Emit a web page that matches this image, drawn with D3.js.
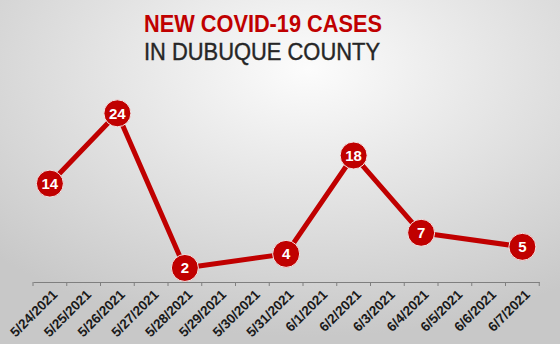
<!DOCTYPE html>
<meta charset="utf-8">
<head>
<style>
  body { margin: 0; }
  svg { display: block; }
  .axis path { stroke: #7f7f7f; }
  .axis text { font: bold 13.5px "Liberation Sans", Arial, sans-serif; fill: #1a1a1a; }
</style>
</head>
<body>
<script src="https://d3js.org/d3.v7.min.js"></script>
<script>

var dates = ["5/24/2021", "5/25/2021", "5/26/2021", "5/27/2021", "5/28/2021",
             "5/29/2021", "5/30/2021", "5/31/2021", "6/1/2021", "6/2/2021",
             "6/3/2021", "6/4/2021", "6/5/2021", "6/6/2021", "6/7/2021"];
var caseDates = ["5/24/2021", "5/26/2021", "5/28/2021", "5/31/2021", "6/2/2021", "6/4/2021", "6/7/2021"];
var cases = [14, 24, 2, 4, 18, 7, 5];

var width = 560, height = 344;
var red = "#c00000";

var svg = d3.select("body").append("svg")
    .attr("width", width)
    .attr("height", height);

// soft grey backdrop, brighter near the title
var grad = svg.append("defs").append("radialGradient")
    .attr("id", "bg")
    .attr("cx", "55%").attr("cy", "20%").attr("r", "78%");
grad.append("stop").attr("offset", "0%").attr("stop-color", "#fcfcfc");
grad.append("stop").attr("offset", "100%").attr("stop-color", "#c8c8c8");

svg.append("rect")
    .attr("width", width)
    .attr("height", height)
    .attr("fill", "url(#bg)");

svg.append("text")
    .attr("x", 263).attr("y", 32)
    .attr("text-anchor", "middle")
    .attr("textLength", 238).attr("lengthAdjust", "spacingAndGlyphs")
    .style("font", "bold 24px 'Liberation Sans', Arial, sans-serif")
    .style("fill", "#c00000")
    .text("NEW COVID-19 CASES");

svg.append("text")
    .attr("x", 262).attr("y", 60)
    .attr("text-anchor", "middle")
    .attr("textLength", 236).attr("lengthAdjust", "spacingAndGlyphs")
    .style("font", "24px 'Liberation Sans', Arial, sans-serif")
    .style("fill", "#262626")
    .style("stroke", "#262626")
    .style("stroke-width", 0.4)
    .text("IN DUBUQUE COUNTY");

var x = d3.scaleBand().domain(dates).range([33, 539.25]).padding(0);
var y = d3.scaleLinear().domain([0, 24]).range([282, 113.3]);

var axis = svg.append("g")
    .attr("class", "axis")
    .attr("transform", "translate(0," + y(0) + ")")
    .call(d3.axisBottom(x).tickSize(0).tickPadding(0));

axis.selectAll(".tick text")
    .attr("text-anchor", "end")
    .attr("transform", "translate(5,10) rotate(-45)")
    .attr("dy", "0.35em");

// tick marks sit between the dates
var edges = dates.map(function(d) { return x(d); }).concat([x.range()[1]]);
axis.selectAll(".edge")
    .data(edges)
  .enter().append("line")
    .attr("class", "edge")
    .attr("x1", function(d) { return d; })
    .attr("x2", function(d) { return d; })
    .attr("y1", 0).attr("y2", 4)
    .attr("stroke", "#7f7f7f");

var pts = caseDates.map(function(d, i) { return {date: d, value: cases[i]}; });
var cx = function(d) { return x(d.date) + x.bandwidth() / 2; };
var cy = function(d) { return y(d.value); };

svg.append("path")
    .datum(pts)
    .attr("fill", "none")
    .attr("stroke", red)
    .attr("stroke-width", 5)
    .attr("stroke-linejoin", "round")
    .attr("d", d3.line().x(cx).y(cy));

svg.selectAll(".dot")
    .data(pts)
  .enter().append("circle")
    .attr("class", "dot")
    .attr("cx", cx)
    .attr("cy", cy)
    .attr("r", 13.5)
    .attr("fill", red)
    .attr("stroke", "#f3e6e6")
    .attr("stroke-width", 1);

svg.selectAll(".lbl")
    .data(pts)
  .enter().append("text")
    .attr("class", "lbl")
    .attr("x", cx)
    .attr("y", cy)
    .attr("dy", "0.36em")
    .attr("text-anchor", "middle")
    .style("font", "bold 15px 'Liberation Sans', Arial, sans-serif")
    .style("fill", "#fff")
    .text(function(d) { return d.value; });

</script>
</body>
